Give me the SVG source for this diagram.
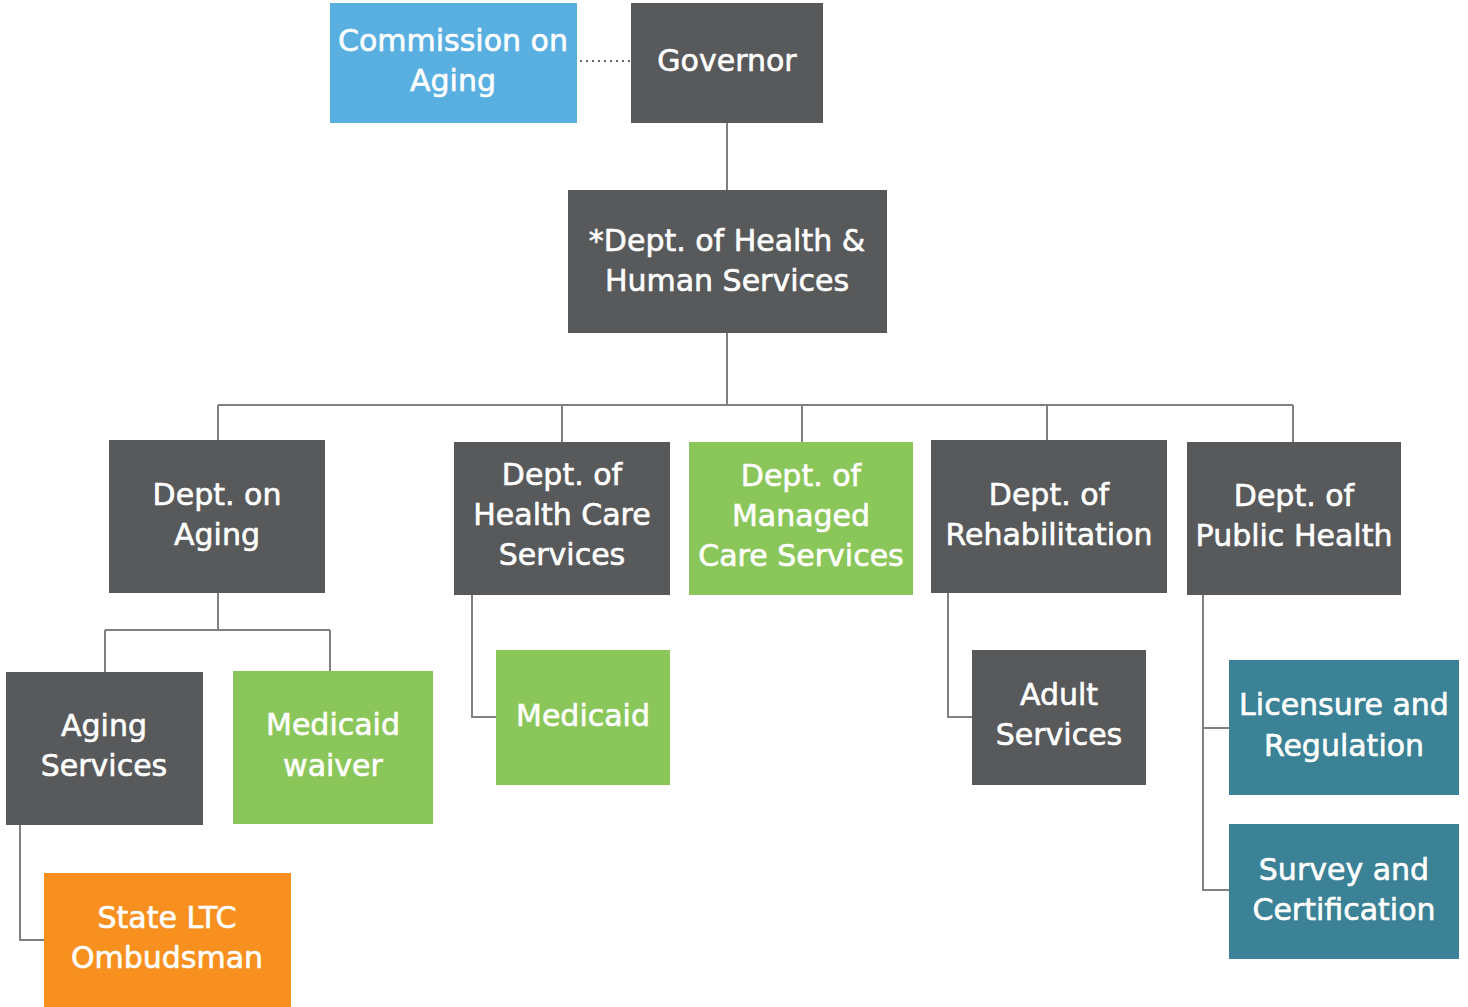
<svg xmlns="http://www.w3.org/2000/svg" width="1468" height="1007" viewBox="0 0 1468 1007">
<style>
.g{fill:#58595b}.b{fill:#5aafe1}.gr{fill:#8bc65a}.o{fill:#f7901e}.t{fill:#3b8296}
text{font-family:"DejaVu Sans","Liberation Sans",sans-serif;font-size:30px;fill:#fff;stroke:#fff;stroke-width:0.6;text-anchor:middle}
.c{fill:none;stroke:#808080;stroke-width:2}
</style>
<rect width="1468" height="1007" fill="#fff"/>
<g id="connectors">
<line x1="580" y1="61" x2="631" y2="61" stroke="#666" stroke-width="2" stroke-dasharray="2,4"/>
<path class="c" d="M727 123V190M727 333V405M218 405H1293M218 405V440M562 405V442M802 405V442M1047 405V440M1293 405V442"/>
<path class="c" d="M218 593V630M105 630H330M105 630V672M330 630V671"/>
<path class="c" d="M20 825V940H44"/>
<path class="c" d="M472 595V717H496"/>
<path class="c" d="M948 593V717H972"/>
<path class="c" d="M1203 595V890H1229M1203 728H1229"/>
</g>
<g id="commission"><rect class="b" x="330" y="3" width="247" height="120"/><text x="453" y="51">Commission on</text><text x="453" y="91">Aging</text></g>
<g id="governor"><rect class="g" x="631" y="3" width="192" height="120"/><text x="727" y="71">Governor</text></g>
<g id="dhhs"><rect class="g" x="568" y="190" width="319" height="143"/><text x="727" y="251">*Dept. of Health &amp;</text><text x="727" y="291">Human Services</text></g>
<g id="aging-dept"><rect class="g" x="109" y="440" width="216" height="153"/><text x="217" y="505">Dept. on</text><text x="217" y="545">Aging</text></g>
<g id="hcs"><rect class="g" x="454" y="442" width="216" height="153"/><text x="562" y="485">Dept. of</text><text x="562" y="525">Health Care</text><text x="562" y="565">Services</text></g>
<g id="managed"><rect class="gr" x="689" y="442" width="224" height="153"/><text x="801" y="486">Dept. of</text><text x="801" y="526">Managed</text><text x="801" y="566">Care Services</text></g>
<g id="rehab"><rect class="g" x="931" y="440" width="236" height="153"/><text x="1049" y="505">Dept. of</text><text x="1049" y="545">Rehabilitation</text></g>
<g id="publichealth"><rect class="g" x="1187" y="442" width="214" height="153"/><text x="1294" y="506">Dept. of</text><text x="1294" y="546">Public Health</text></g>
<g id="agingservices"><rect class="g" x="6" y="672" width="197" height="153"/><text x="104" y="736">Aging</text><text x="104" y="776">Services</text></g>
<g id="waiver"><rect class="gr" x="233" y="671" width="200" height="153"/><text x="333" y="735">Medicaid</text><text x="333" y="776">waiver</text></g>
<g id="ombudsman"><rect class="o" x="44" y="873" width="247" height="134"/><text x="167" y="928">State LTC</text><text x="167" y="968">Ombudsman</text></g>
<g id="medicaid"><rect class="gr" x="496" y="650" width="174" height="135"/><text x="583" y="726">Medicaid</text></g>
<g id="adult"><rect class="g" x="972" y="650" width="174" height="135"/><text x="1059" y="705">Adult</text><text x="1059" y="745">Services</text></g>
<g id="licensure"><rect class="t" x="1229" y="660" width="230" height="135"/><text x="1344" y="715">Licensure and</text><text x="1344" y="756">Regulation</text></g>
<g id="survey"><rect class="t" x="1229" y="824" width="230" height="135"/><text x="1344" y="880">Survey and</text><text x="1344" y="920">Certification</text></g>
</svg>
